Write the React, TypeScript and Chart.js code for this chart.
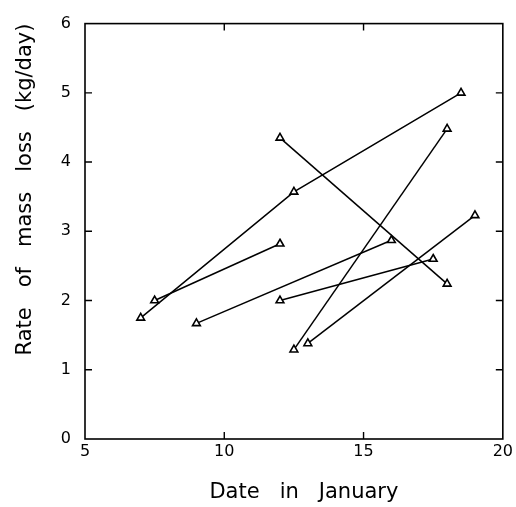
import React, { useEffect, useRef } from "react";
import { Chart, registerables } from "chart.js";

Chart.register(...registerables);

// Date in January (x) and rate of mass loss in kg/day (y) for each connected series
const seriesAx = [7.0, 12.5, 18.5];
const seriesAy = [1.75, 3.57, 5.0];
const seriesBx = [7.5, 12.0];
const seriesBy = [2.0, 2.82];
const seriesCx = [9.0, 16.0];
const seriesCy = [1.67, 2.87];
const seriesDx = [12.0, 17.5];
const seriesDy = [2.0, 2.6];
const seriesEx = [12.0, 18.0];
const seriesEy = [4.35, 2.24];
const seriesFx = [12.5, 18.0];
const seriesFy = [1.29, 4.48];
const seriesGx = [13.0, 19.0];
const seriesGy = [1.38, 3.23];

const xMin = 5;
const xMax = 20;
const xStep = 5;
const yMin = 0;
const yMax = 6;
const yStep = 1;

const xTitle = "   Date   in   January";
const yTitle = "Rate   of   mass   loss   (kg/day)";

const allSeries = [
  [seriesAx, seriesAy],
  [seriesBx, seriesBy],
  [seriesCx, seriesCy],
  [seriesDx, seriesDy],
  [seriesEx, seriesEy],
  [seriesFx, seriesFy],
  [seriesGx, seriesGy],
];

const FONT = "'DejaVu Sans', sans-serif";

const framePlugin = {
  id: "frameTicks",
  afterDatasetsDraw(chart: any) {
    const { ctx, chartArea, scales } = chart;
    const { left, right, top, bottom } = chartArea;
    ctx.save();
    ctx.strokeStyle = "#000";
    ctx.lineWidth = 1.6;
    ctx.strokeRect(left, top, right - left, bottom - top);
    const len = 7;
    ctx.lineWidth = 1.4;
    ctx.beginPath();
    for (const t of scales.x.ticks) {
      if (t.value <= xMin || t.value >= xMax) continue;
      const px = scales.x.getPixelForValue(t.value);
      ctx.moveTo(px, bottom);
      ctx.lineTo(px, bottom - len);
      ctx.moveTo(px, top);
      ctx.lineTo(px, top + len);
    }
    for (const t of scales.y.ticks) {
      if (t.value <= yMin || t.value >= yMax) continue;
      const py = scales.y.getPixelForValue(t.value);
      ctx.moveTo(left, py);
      ctx.lineTo(left + len, py);
      ctx.moveTo(right, py);
      ctx.lineTo(right - len, py);
    }
    ctx.stroke();
    ctx.restore();
  },
};

export default function App() {
  const ref = useRef<HTMLCanvasElement>(null);

  useEffect(() => {
    if (!ref.current) return;
    const datasets = allSeries.map(([xs, ys]) => ({
      data: xs.map((x, i) => ({ x, y: ys[i] })),
      borderColor: "#000",
      borderWidth: 1.5,
      backgroundColor: "#fff",
      pointStyle: "triangle",
      pointRadius: 4.5,
      pointBorderWidth: 1.6,
      pointBorderColor: "#000",
      pointBackgroundColor: "#fff",
      showLine: true,
      tension: 0,
      fill: false,
    }));
    const chart = new Chart(ref.current, {
      type: "line",
      data: { datasets },
      plugins: [framePlugin],
      options: {
        animation: false,
        responsive: false,
        devicePixelRatio: 1,
        layout: { padding: { left: 0, top: 15, right: 13, bottom: 0 } },
        plugins: { legend: { display: false }, tooltip: { enabled: false } },
        scales: {
          x: {
            type: "linear",
            min: xMin,
            max: xMax,
            ticks: {
              stepSize: xStep,
              color: "#000",
              font: { family: FONT, size: 16 },
              padding: 3,
              maxRotation: 0,
            },
            grid: { display: false, drawTicks: false },
            border: { display: false },
            title: {
              display: true,
              text: xTitle,
              color: "#000",
              font: { family: FONT, size: 21 },
              padding: { top: 0, bottom: 2 },
            },
            afterFit(scale: any) {
              scale.height = 68;
            },
          },
          y: {
            type: "linear",
            min: yMin,
            max: yMax,
            ticks: {
              stepSize: yStep,
              color: "#000",
              font: { family: FONT, size: 16 },
              padding: 14,
            },
            grid: { display: false, drawTicks: false },
            border: { display: false },
            title: {
              display: true,
              text: yTitle,
              align: "end",
              color: "#000",
              font: { family: FONT, size: 21 },
              padding: { top: 13, bottom: 0 },
            },
            afterFit(scale: any) {
              scale.width = 85;
            },
          },
        },
      },
    });
    return () => chart.destroy();
  }, []);

  return (
    <div style={{ position: "fixed", left: 0, top: 0, width: 516, height: 507, background: "#fff" }}>
      <canvas ref={ref} width={516} height={507} style={{ width: 516, height: 507 }} />
    </div>
  );
}
